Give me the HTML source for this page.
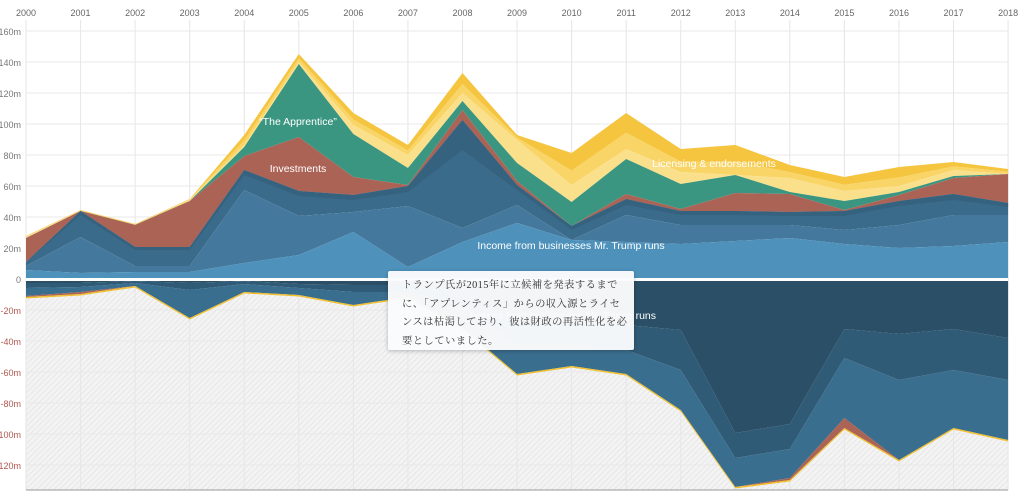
<!DOCTYPE html>
<html><head><meta charset="utf-8"><style>
html,body{margin:0;padding:0;background:#fff;width:1023px;height:493px;overflow:hidden;font-family:"Liberation Sans",sans-serif}
#tip{position:absolute;left:388px;top:271px;width:246px;height:79px;background:rgba(250,251,252,0.97);box-shadow:0 1px 4px rgba(0,0,0,0.25);border-radius:2px;box-sizing:border-box;padding:6px 0 0 14px;font-family:"Liberation Serif","Noto Serif CJK SC",serif;font-size:10.3px;line-height:18.5px;color:#333;letter-spacing:0.45px;white-space:nowrap}
</style></head><body>
<svg id="s" width="1023" height="493" style="position:absolute;left:0;top:0">
<defs><pattern id="h" width="4" height="4" patternUnits="userSpaceOnUse" patternTransform="rotate(45)"><rect width="4" height="4" fill="#f3f3f3"/><line x1="0" y1="0" x2="0" y2="4" stroke="#dcdcdc" stroke-width="1"/></pattern></defs>
<g id="grid"></g><g id="areas"></g><g id="lab"></g>
</svg>
<div id="tip">トランプ氏が2015年に立候補を発表するまで<br>に、「アプレンティス」からの収入源とライセ<br>ンスは枯渇しており、彼は財政の再活性化を必<br>要としていました。</div>
<script>
var X=[];for(var i=0;i<19;i++)X.push(26+i*54.56);
var ns="http://www.w3.org/2000/svg";
function el(p,t,a,txt){var e=document.createElementNS(ns,t);for(var k in a)e.setAttribute(k,a[k]);if(txt)e.textContent=txt;document.getElementById(p).appendChild(e);return e;}
el("grid","rect",{x:26,y:280,width:982,height:210,fill:"url(#h)"});
for(var i=0;i<19;i++){el("grid","line",{x1:X[i],y1:20,x2:X[i],y2:490,stroke:"#e6e6e6"});
 el("lab","text",{x:X[i],y:16,"font-size":9,fill:"#666","text-anchor":"middle"},String(2000+i));}
for(var v=-120;v<=160;v+=20){var y=279-v*1.55;
 el("grid","line",{x1:26,y1:y,x2:1008,y2:y,stroke:"#e8e8e8"});
 el("lab","text",{x:21,y:y+4,"font-size":9,fill:v<0?"#b0574f":"#777","text-anchor":"end"},v==0?"0":v+"m");}
el("grid","line",{x1:26,y1:490,x2:1008,y2:490,stroke:"#999"});
function band(top,bot,fill){var d="M"+X[0]+","+top[0];for(var i=1;i<19;i++)d+="L"+X[i]+","+top[i];for(var i=18;i>=0;i--)d+="L"+X[i]+","+bot[i];el("areas","path",{d:d+"Z",fill:fill});}
var Z=[];for(var i=0;i<19;i++)Z.push(279);
var lb=[270,273,272,272,263,255,232,267,242,223,240,242,244,241,238,244,248,246,242];
var mb=[266,237,266,266,190,216,212,206,228,205,240,215,225,225,225,230,225,215,215];
var ub=[262,211,247,247,170,191,195,186,120,185,226,199,211,211,212,211,201,194,203];
var rd=[238,211,225,201,156,137,177,185,110,181,226,194,209,193,194,210,195,178,174];
var gr=[238,211,226,201,147,64,134,168,101,163,202,159,184,175,192,201,192,176,174];
var ly=[237,211,225,200,145,62,125,155,93,140,185,149,172,175,178,191,186,170,174];
var yl=[236,210,224,199,135,54,113,145,73,135,153,113,149,145,165,177,167,162,169];
var ym=yl.map(function(v,i){return (v*0.45+ly[i]*0.55)});
band(yl,ym,"#f5c53f");band(ym,ly,"#f9d466");band(ly,gr,"#fbe08c");band(gr,rd,"#3a9680");band(rd,ub,"#ab6356");
band(ub,mb,"#3b6b8b");band(mb,lb,"#44799d");band(lb,Z,"#4e92bc");
band([262,215,250,250,175,196,200,192,150,190,230,205,215,215,216,216,206,200,207],ub,"#35637f");
var N0=[281,281,281,281,281,281,281,281,281,281,281,281,281,281,281,281,281,281,281];
var n1=[283,283,281,283,281,284,285,285,290,325,325,325,330,433,424,329,334,329,338];
var n2=[288,287,283,290,284,288,292,292,305,345,345,350,370,458,449,358,380,370,380];
var n3=[296,292,286,318,292,295,305,297,328,374,366,374,410,487,478,418,460,428,440];
var nr=n3.slice();nr[14]=n3[14]+2;nr[15]=428;nr[0]=297;nr[1]=294;
band(N0,n1,"#2b4f66");band(n1,n2,"#2f5b77");band(n2,n3,"#3a6e8e");
band(n3,nr,"#ab6356");
var yb=nr.map(function(v){return v+1.5});band(nr,yb,"#f0c030");
el("areas","rect",{x:26,y:278,width:982,height:3,fill:"#fff"});
function t(x,y,s,a){el("lab","text",{x:x,y:y,"font-size":10.5,fill:"#fff","text-anchor":a||"middle"},s);}
t(298,125,"\u201CThe Apprentice\u201D");t(298,172,"Investments");t(714,167,"Licensing & endorsements");
t(571,249,"Income from businesses Mr. Trump runs");t(656,319,"Losses from businesses Mr. Trump runs","end");
</script>
</body></html>
